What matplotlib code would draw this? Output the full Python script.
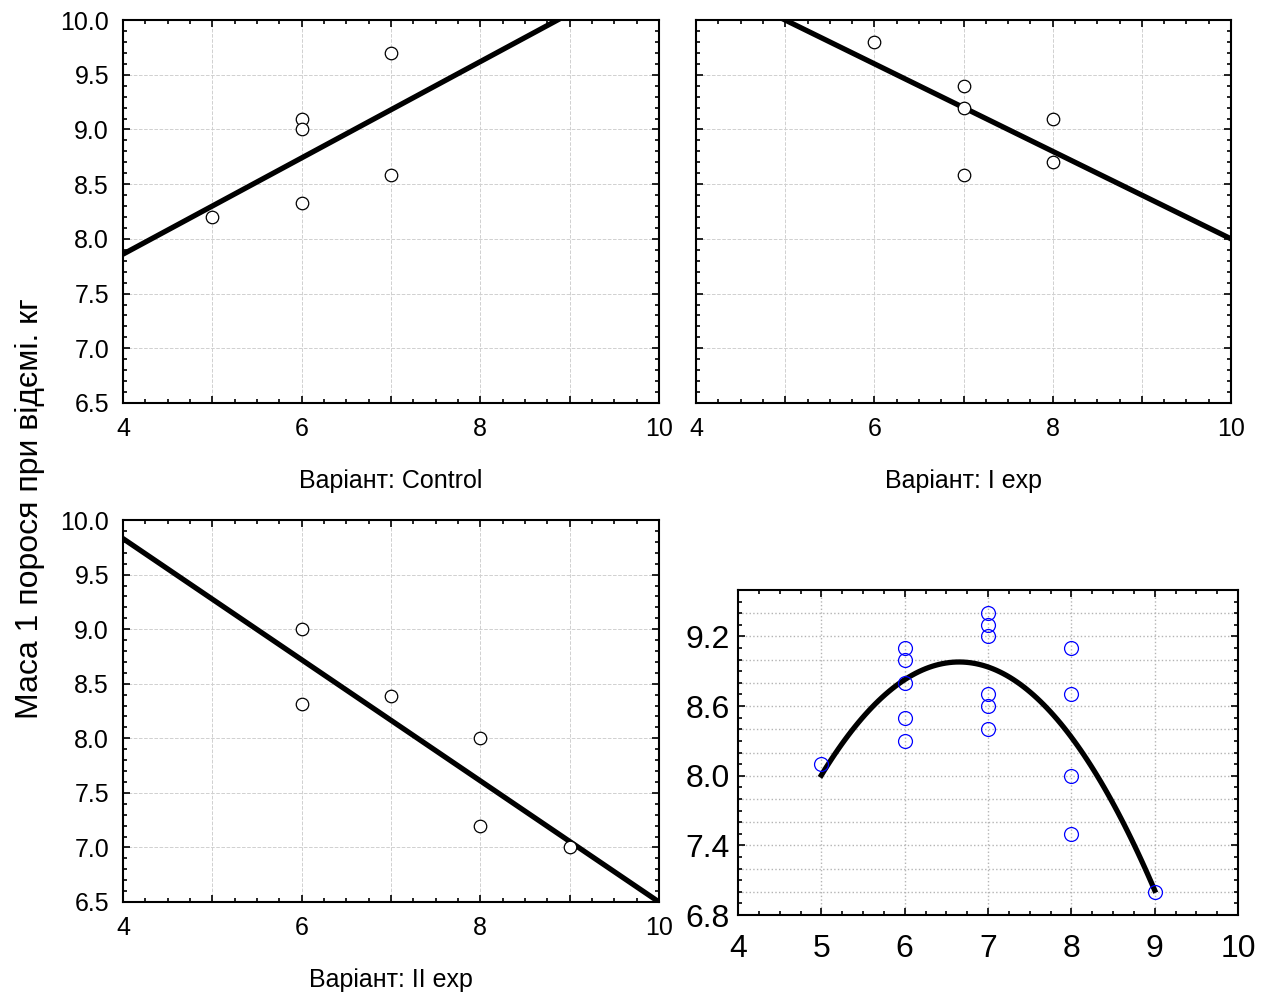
import numpy as np
import matplotlib
matplotlib.use('Agg')
import matplotlib.pyplot as plt
from matplotlib.ticker import MultipleLocator, FuncFormatter

plt.rcParams['font.family'] = ['Liberation Sans', 'DejaVu Sans']

# data
ctrl_x = [5, 6, 6, 6, 7, 7]
ctrl_y = [8.2, 9.1, 9.0, 8.33, 9.7, 8.58]
ctrl_fit = [6.10, 0.44]          # intercept, slope

exp1_x = [6, 7, 7, 7, 8, 8]
exp1_y = [9.8, 9.4, 9.2, 8.58, 9.1, 8.7]
exp1_fit = [12.0, -0.4]

exp2_x = [6, 6, 7, 8, 8, 9]
exp2_y = [9.0, 8.31, 8.39, 8.0, 7.2, 7.0]
exp2_fit = [12.05, -0.555]

all_x = [5, 6, 6, 6, 6, 6, 7, 7, 7, 7, 7, 7, 8, 8, 8, 8, 9]
all_y = [8.1, 9.1, 9.0, 8.8, 8.5, 8.3, 9.4, 9.3, 9.2, 8.7, 8.6, 8.4, 9.1, 8.7, 8.0, 7.5, 7.0]
all_fit = [-6.82, 4.75, -0.357]  # a + b*x + c*x^2
all_yticks = [6.8, 7.4, 8.0, 8.6, 9.2]

panels = [
    ('Варіант: Control', ctrl_x, ctrl_y, ctrl_fit),
    ('Варіант: I exp', exp1_x, exp1_y, exp1_fit),
    ('Варіант: II exp', exp2_x, exp2_y, exp2_fit),
]

fig = plt.figure(figsize=(12.69, 9.97), dpi=100)
rects = [
    [0.0969, 0.5958, 0.4224, 0.3841],
    [0.5485, 0.5958, 0.4216, 0.3841],
    [0.0969, 0.0953, 0.4224, 0.3831],
]

even_fmt = FuncFormatter(lambda v, p: '%d' % round(v) if round(v) % 2 == 0 else '')

for i, (label, xs, ys, fit) in enumerate(panels):
    ax = fig.add_axes(rects[i])
    xx = np.linspace(4, 10, 50)
    ax.plot(xx, fit[0] + fit[1] * xx, color='black', lw=3.8, zorder=3)
    ax.plot(xs, ys, 'o', mfc='white', mec='black', mew=0.9, ms=9, zorder=4)
    ax.set_xlim(4, 10)
    ax.set_ylim(6.5, 10.0)
    ax.xaxis.set_major_locator(MultipleLocator(1))
    ax.xaxis.set_minor_locator(MultipleLocator(0.25))
    ax.xaxis.set_major_formatter(even_fmt)
    ax.yaxis.set_major_locator(MultipleLocator(0.5))
    ax.yaxis.set_minor_locator(MultipleLocator(0.1))
    ax.yaxis.set_major_formatter(FuncFormatter(lambda v, p: '%.1f' % v))
    ax.tick_params(which='both', direction='in', top=True, right=True, width=1.2)
    ax.tick_params(which='major', length=5, labelsize=18, pad=10)
    ax.tick_params(which='minor', length=3)
    if i == 1:
        ax.tick_params(labelleft=False)
    ax.grid(True, which='major', color='#d0d0d0', ls='--', lw=0.7)
    for s in ax.spines.values():
        s.set_linewidth(1.5)
    ax.set_xlabel(label, fontsize=18, labelpad=20)

# bottom right panel
ax = fig.add_axes([0.5816, 0.0822, 0.394, 0.326])
xx = np.linspace(5, 9, 100)
ax.plot(xx, all_fit[0] + all_fit[1] * xx + all_fit[2] * xx ** 2, color='black', lw=3.8, zorder=3)
ax.plot(all_x, all_y, 'o', mfc='none', mec='blue', mew=0.9, ms=10, zorder=4)
ax.set_xlim(4, 10)
ax.set_ylim(6.8, 9.6)
ax.xaxis.set_major_locator(MultipleLocator(1))
ax.xaxis.set_minor_locator(MultipleLocator(0.25))
ax.set_yticks(all_yticks)
ax.yaxis.set_minor_locator(MultipleLocator(0.1))
ax.yaxis.set_major_formatter(FuncFormatter(lambda v, p: '%.1f' % v))
ax.tick_params(which='both', direction='in', top=True, right=True, width=1.2)
ax.tick_params(which='major', length=5, labelsize=23, pad=6)
ax.tick_params(axis='x', which='major', pad=14)
ax.tick_params(which='minor', length=3)
for gx in range(5, 10):
    ax.axvline(gx, color='#b4b4b4', ls=':', lw=1.0, zorder=1)
for gy in np.arange(7.0, 9.5, 0.2):
    ax.axhline(gy, color='#b4b4b4', ls=':', lw=1.0, zorder=1)
for s in ax.spines.values():
    s.set_linewidth(1.5)

fig.text(0.024, 0.49, 'Маса 1 порося при відємі. кг', rotation=90, fontsize=23,
         ha='center', va='center')

fig.savefig('out.png', dpi=100)
